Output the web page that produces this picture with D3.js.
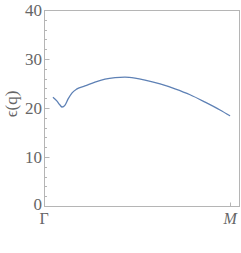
<!DOCTYPE html>
<html>
<head>
<meta charset="utf-8">
<script src="https://cdn.jsdelivr.net/npm/d3@7"></script>
<style>
  body { margin: 0; background: #fff; }
  svg { display: block; }
  text { font-family: "Liberation Serif", "DejaVu Serif", serif; fill: #666; }
</style>
</head>
<body>
<svg id="chart" width="241" height="253"></svg>
<script>
// path coordinate along Gamma -> M (0..1)
const qPath = [0.048, 0.07, 0.086, 0.097, 0.113, 0.129, 0.151, 0.177, 0.22, 0.274,
  0.328, 0.382, 0.435, 0.489, 0.543, 0.624, 0.704, 0.785, 0.866, 0.946, 1.0];
const eps = [22.2, 21.4, 20.6, 20.2, 20.6, 21.8, 23.1, 23.9, 24.5, 25.3,
  25.9, 26.2, 26.3, 26.1, 25.7, 24.9, 23.9, 22.7, 21.2, 19.6, 18.4];
const yTicks = [0, 10, 20, 30, 40];
const xTickPos = [0, 1];
const xTickLabels = ['Γ', 'M'];

const svg = d3.select('#chart');
const mLeft = 44, mRight = 239, mTop = 10, mBottom = 206;

const x = d3.scaleLinear().domain([0, 1.048]).range([mLeft, mRight]);
const y = d3.scaleLinear().domain([0, 40]).range([mBottom, mTop]);

const frameColor = '#b5b5b5';

// minor + major y ticks (inward)
const minor = d3.range(0, 41, 2);
svg.selectAll('.ytick').data(minor).enter().append('line')
    .attr('x1', mLeft + 0.5)
    .attr('x2', d => mLeft + 0.5 + (d % 10 === 0 ? 5 : 2.5))
    .attr('y1', d => Math.round(y(d)) + 0.5)
    .attr('y2', d => Math.round(y(d)) + 0.5)
    .attr('stroke', frameColor)
    .attr('stroke-width', 1);

svg.selectAll('.xtick').data(xTickPos).enter().append('line')
    .attr('x1', d => Math.round(x(d)) + 0.5)
    .attr('x2', d => Math.round(x(d)) + 0.5)
    .attr('y1', mBottom + 0.5)
    .attr('y2', mBottom + 0.5 - 4)
    .attr('stroke', frameColor);

// frame
svg.append('rect')
    .attr('x', mLeft + 0.5).attr('y', mTop + 0.5)
    .attr('width', mRight - mLeft).attr('height', mBottom - mTop)
    .attr('fill', 'none')
    .attr('stroke', frameColor)
    .attr('stroke-width', 1);

// y labels
svg.selectAll('.ylab').data(yTicks).enter().append('text')
    .attr('x', mLeft - 2)
    .attr('y', d => y(d) + (d === 0 ? 4 : 6))
    .attr('text-anchor', 'end')
    .style('font-size', '17px')
    .text(d => d);

svg.selectAll('.xlab').data(xTickPos).enter().append('text')
    .attr('x', d => x(d))
    .attr('y', mBottom + 18)
    .attr('text-anchor', 'middle')
    .style('font-size', '16px')
    .style('font-style', (d, i) => i === 1 ? 'italic' : 'normal')
    .text((d, i) => xTickLabels[i]);

svg.append('text')
    .attr('transform', 'translate(17,' + 104 + ') rotate(-90)')
    .attr('text-anchor', 'middle')
    .style('font-size', '17px')
    .text('ϵ(q)');

const line = d3.line()
    .x((d, i) => x(qPath[i]))
    .y(d => y(d))
    .curve(d3.curveMonotoneX);

svg.append('path')
    .datum(eps)
    .attr('d', line)
    .attr('fill', 'none')
    .attr('stroke', '#5e81b5')
    .attr('stroke-width', 1.3);
</script>
</body>
</html>
